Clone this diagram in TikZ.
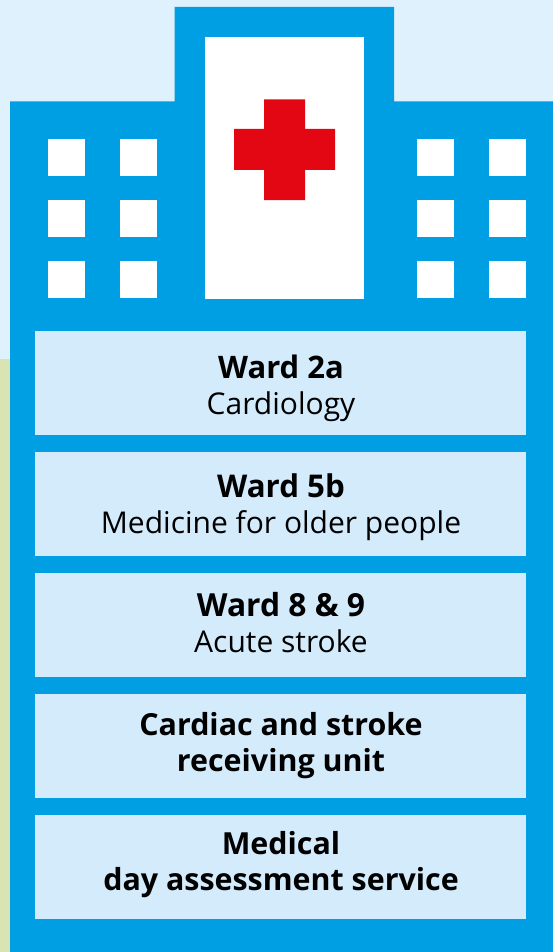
\documentclass[tikz,border=0pt]{standalone}
\usepackage{fontspec}
\setmainfont{Open Sans}
\definecolor{sky}{HTML}{DFF1FD}
\definecolor{sage}{HTML}{D8E4B2}
\definecolor{bldg}{HTML}{009FE3}
\definecolor{panel}{HTML}{D3EBFB}
\definecolor{crossred}{HTML}{E30613}
\tikzset{
  x=1pt,y=-1pt,
  win/.style={fill=white,draw=none},
  wardpanel/.style={fill=panel,draw=none},
  wardtext/.style={align=center,text=black,inner sep=0pt,font=\fontsize{30}{36}\selectfont},
}
\newcommand{\wardhead}[2][30.4]{{\fontsize{#1}{36}\selectfont\bfseries #2}}
\begin{document}
\begin{tikzpicture}
\useasboundingbox (0,0) rectangle (553,952);
\fill[sky] (0,0) rectangle (553,952);
\fill[sage] (0,359) rectangle (10,952);
\fill[bldg] (10,952) -- (10,101.5) -- (174.5,101.5) -- (174.5,7) -- (394,7) -- (394,101.5) -- (553,101.5) -- (553,952) -- cycle;
\fill[win] (204.5,37) rectangle (364,298.5);
\fill[crossred] (264,99.5) -- (305,99.5) -- (305,129) -- (335,129) -- (335,170) -- (305,170) -- (305,200) -- (264,200) -- (264,170) -- (234,170) -- (234,129) -- (264,129) -- cycle;
\foreach \wx in {48,119.5,417,488.5}
  \foreach \wy in {139,199.5,260.5}
    \fill[win] (\wx,\wy) rectangle +(37.3,37.3);
\foreach \py in {331,452,573,694,815}
  \fill[wardpanel] (35,\py) rectangle (526,\py+104);
\node[wardtext] (w1) at (281,388) {\wardhead[31]{Ward 2a}\\Cardiology};
\node[wardtext] (w2) at (281,507) {\wardhead[31.3]{Ward 5b}\\Medicine for older people};
\node[wardtext] (w3) at (281,623) {\wardhead[31.8]{Ward 8 \& 9}\\Acute stroke};
\node[wardtext] (w4) at (281,746) {\wardhead{Cardiac and stroke}\\\wardhead{receiving unit}};
\node[wardtext] (w5) at (281,865) {\wardhead{Medical}\\\wardhead{day assessment service}};
\end{tikzpicture}
\end{document}
